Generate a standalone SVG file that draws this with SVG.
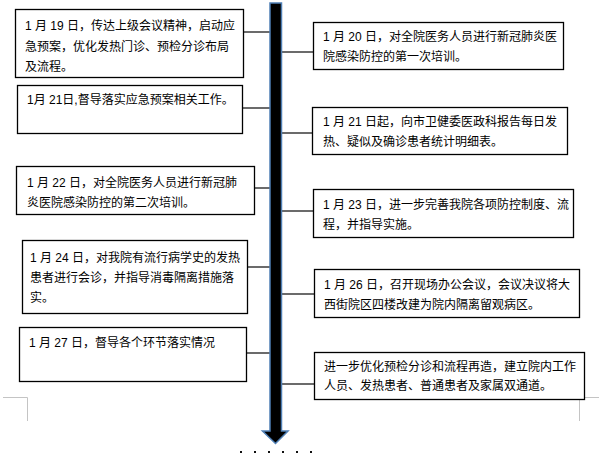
<svg xmlns="http://www.w3.org/2000/svg" width="599" height="466" viewBox="0 0 599 466">
<style>
.box{fill:#fff;stroke:#000;stroke-width:1.3}
.t{font-family:"Liberation Sans","Noto Sans CJK SC",sans-serif;font-size:12px;fill:#000}
.c{stroke:#3a3a3a;stroke-width:1.5;fill:none}
.mk{stroke:#c4c4c4;stroke-width:1;fill:none}
</style>
<rect width="599" height="466" fill="#fff"/>
<g id="margins">
<path class="mk" d="M3,397.5H27.5V421"/>
<path class="mk" d="M599,397.5H579.5V421"/>
</g>
<g id="connectors">
<line class="c" x1="243" y1="32" x2="270" y2="32"/>
<line class="c" x1="242" y1="108" x2="270" y2="108"/>
<line class="c" x1="254" y1="188" x2="270" y2="188"/>
<line class="c" x1="247" y1="267" x2="270" y2="267"/>
<line class="c" x1="246" y1="353" x2="270" y2="353"/>
<line class="c" x1="282" y1="52" x2="313" y2="52"/>
<line class="c" x1="282" y1="133" x2="312" y2="133"/>
<line class="c" x1="282" y1="211" x2="313" y2="211"/>
<line class="c" x1="282" y1="294" x2="314" y2="294"/>
<line class="c" x1="282" y1="384" x2="314" y2="384"/>
</g>
<g id="timeline">
<path d="M270,3H281.5V431H288L275.5,443.5L262.5,431H270Z" fill="#000" stroke="#4f7fb5" stroke-width="1.5" stroke-linejoin="miter"/>
<g fill="#111">
<rect x="240" y="451" width="2" height="2"/>
<rect x="254" y="451" width="2" height="2"/>
<rect x="268" y="451" width="2" height="2"/>
<rect x="282" y="451" width="2" height="2"/>
<rect x="296" y="451" width="2" height="2"/>
<rect x="310" y="451" width="2" height="2"/>
</g>
</g>
<g id="n1">
<rect class="box" x="15.5" y="9.5" width="228" height="68"/>
<text class="t" x="25" y="30">1 月 19 日，传达上级会议精神，启动应</text>
<text class="t" x="25" y="50.5">急预案，优化发热门诊、预检分诊布局</text>
<text class="t" x="25" y="71">及流程。</text>
</g>
<g id="n2">
<rect class="box" x="17.5" y="85.5" width="225" height="48"/>
<text class="t" x="27" y="104">1月 21日,督导落实应急预案相关工作。</text>
</g>
<g id="n3">
<rect class="box" x="16.5" y="166.5" width="238" height="48"/>
<text class="t" x="27" y="187">1 月 22 日，对全院医务人员进行新冠肺</text>
<text class="t" x="27" y="207">炎医院感染防控的第二次培训。</text>
</g>
<g id="n4">
<rect class="box" x="22.5" y="240.5" width="225" height="73"/>
<text class="t" x="30" y="262">1 月 24 日，对我院有流行病学史的发热</text>
<text class="t" x="30" y="282">患者进行会诊，并指导消毒隔离措施落</text>
<text class="t" x="30" y="302">实。</text>
</g>
<g id="n5">
<rect class="box" x="19.5" y="327.5" width="227" height="54"/>
<text class="t" x="29" y="347">1 月 27 日，督导各个环节落实情况</text>
</g>
<g id="n6">
<rect class="box" x="313.5" y="22.5" width="250" height="47"/>
<text class="t" x="323" y="41">1 月 20 日，对全院医务人员进行新冠肺炎医</text>
<text class="t" x="323" y="61">院感染防控的第一次培训。</text>
</g>
<g id="n7">
<rect class="box" x="312.5" y="107.5" width="255" height="47"/>
<text class="t" x="323" y="126">1 月 21 日起，向市卫健委医政科报告每日发</text>
<text class="t" x="323" y="146">热、疑似及确诊患者统计明细表。</text>
</g>
<g id="n8">
<rect class="box" x="313.5" y="189.5" width="260" height="48"/>
<text class="t" x="323" y="209">1 月 23 日，进一步完善我院各项防控制度、流</text>
<text class="t" x="323" y="229">程，并指导实施。</text>
</g>
<g id="n9">
<rect class="box" x="314.5" y="269.5" width="265" height="48"/>
<text class="t" x="324" y="289">1 月 26 日，召开现场办公会议，会议决议将大</text>
<text class="t" x="324" y="309">西街院区四楼改建为院内隔离留观病区。</text>
</g>
<g id="n10">
<rect class="box" x="314.5" y="352.5" width="270" height="47"/>
<text class="t" x="324" y="371">进一步优化预检分诊和流程再造，建立院内工作</text>
<text class="t" x="324" y="390">人员、发热患者、普通患者及家属双通道。</text>
</g>
</svg>
